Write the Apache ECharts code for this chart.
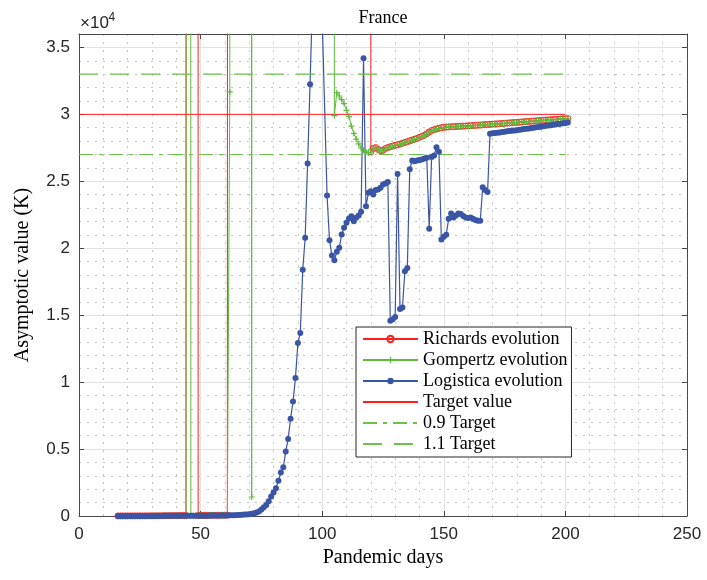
<!DOCTYPE html>
<html>
<head>
<meta charset="utf-8">
<script src="https://cdn.jsdelivr.net/npm/echarts@6/dist/echarts.min.js"></script>
<style>
html,body{margin:0;padding:0;background:#fff;}
#chart{width:707px;height:580px;}
</style>
</head>
<body>
<div id="chart"></div>
<script>
// ---- data ----
const H = 1000000; // estimate far above the visible range (draws as a vertical spike)
const days = [
  16,17,18,19,20,21,22,23,24,25,
  26,27,28,29,30,31,32,33,34,35,
  36,37,38,39,40,41,42,43,44,45,
  46,47,48,49,50,51,52,53,54,55,
  56,57,58,59,60,61,62,63,64,65,
  66,67,68,69,70,71,72,73,74,75,
  76,77,78,79,80,81,82,83,84,85,
  86,87,88,89,90,91,92,93,94,95,
  96,97,98,99,100,101,102,103,104,105,
  106,107,108,109,110,111,112,113,114,115,
  116,117,118,119,120,121,122,123,124,125,
  126,127,128,129,130,131,132,133,134,135,
  136,137,138,139,140,141,142,143,144,145,
  146,147,148,149,150,151,152,153,154,155,
  156,157,158,159,160,161,162,163,164,165,
  166,167,168,169,170,171,172,173,174,175,
  176,177,178,179,180,181,182,183,184,185,
  186,187,188,189,190,191,192,193,194,195,
  196,197,198,199,200,201
];
const richards = [
  3,3,4,4,5,5,6,6,7,8,
  8,9,10,11,12,13,14,16,17,19,
  20,22,24,26,28,30,32,35,38,H,
  H,H,H,40,42,44,46,48,50,52,
  54,56,58,60,62,64,H,H,H,H,
  H,H,H,H,H,H,H,H,H,H,
  H,H,H,H,H,H,H,H,H,H,
  H,H,H,H,H,H,H,H,H,H,
  H,H,H,H,H,H,H,H,H,H,
  H,H,H,H,H,H,H,H,H,H,
  H,H,H,H,27200,27450,27520,27380,27280,27320,
  27450,27520,27580,27630,27680,27730,27780,27840,27900,27960,
  28020,28080,28140,28200,28280,28360,28430,28550,28680,28790,
  28850,28910,28960,29000,29030,29050,29060,29070,29080,29090,
  29100,29110,29120,29130,29140,29150,29165,29180,29190,29200,
  29215,29230,29240,29250,29265,29280,29290,29300,29315,29330,
  29345,29360,29375,29390,29400,29415,29430,29445,29460,29475,
  29490,29500,29515,29530,29540,29555,29570,29580,29595,29610,
  29620,29635,29650,29660,29670,29680
];
const gompertz = [
  2,2,3,3,4,4,5,5,6,6,
  7,7,8,9,10,11,12,13,14,15,
  16,18,20,22,24,26,28,30,32,H,
  34,36,38,40,42,44,46,48,50,52,
  54,56,58,60,62,64,31670,H,H,H,
  H,H,H,H,H,1420,H,H,H,H,
  H,H,H,H,H,H,H,H,H,H,
  H,H,H,H,H,H,H,H,H,H,
  H,H,H,H,H,H,H,H,H,29900,
  31620,31370,31100,30800,30300,29830,29120,28580,28150,27800,
  27500,27300,27180,27120,27180,27420,27500,27360,27260,27300,
  27430,27500,27560,27610,27660,27710,27760,27820,27880,27940,
  28000,28060,28120,28180,28260,28340,28410,28530,28660,28770,
  28830,28890,28940,28980,29010,29030,29045,29055,29065,29075,
  29085,29095,29105,29115,29125,29135,29150,29165,29175,29185,
  29200,29215,29225,29235,29250,29265,29275,29285,29300,29315,
  29330,29345,29360,29375,29385,29400,29415,29430,29445,29460,
  29475,29485,29500,29515,29525,29540,29555,29565,29580,29595,
  29605,29620,29635,29645,29655,29665
];
const logistica = [
  1,1,1,2,2,2,3,3,3,4,
  4,5,5,6,6,7,8,8,9,10,
  11,12,13,14,15,16,17,18,19,20,
  21,22,23,24,25,26,27,28,30,32,
  34,36,38,40,42,45,50,55,60,70,
  80,90,105,120,140,170,210,260,330,480,
  650,820,1100,1450,1750,2070,2640,3240,3640,4810,
  5760,7260,8550,10300,12920,13670,18400,20780,26330,32240,
  38500,H,H,H,37100,null,23940,20600,19450,19100,
  19730,20030,21020,21520,21900,22220,22390,22020,22270,22440,
  22720,34190,23140,24140,24260,24010,24340,24390,24510,24760,
  24840,24940,14590,14700,14870,25540,15460,15580,18280,18530,
  25900,26560,26500,26560,26580,26630,26700,26750,21450,26820,
  26930,27550,27210,20650,20850,21000,22200,22600,22300,22450,
  22600,22550,22400,22300,22250,22300,22200,22100,22050,22050,
  24550,24350,24200,28550,28580,28600,28630,28650,28680,28700,
  28730,28750,28780,28800,28820,28850,28870,28900,28930,28950,
  28980,29000,29030,29060,29080,29110,29140,29160,29190,29220,
  29250,29270,29300,29330,29360,29390
];
const targetDays = [0, 200];
const targetValue = 30000;
const lowTarget = 27000;   // 0.9 Target
const highTarget = 33000;  // 1.1 Target
const yTickLabels = ['0','0.5','1','1.5','2','2.5','3','3.5'];
const legendNames = ['Richards evolution', 'Gompertz evolution', 'Logistica evolution', 'Target value', '0.9 Target', '1.1 Target'];

// ---- styles ----
const SERIF = '"Liberation Serif", "DejaVu Serif", serif';
const SANS = '"Liberation Sans", Arial, sans-serif';
const AXIS_C = '#4a4a4a';
const RED = '#ff1f1f';
const GREEN = '#5fbb3c';
const GREEN_D = '#6cc24a';
const BLUE = '#3a55a5';
const PLUS = 'path://M4,0 H6 V4 H10 V6 H6 V10 H4 V6 H0 V4 H4 Z';
const MINOR_C = ['rgba(0,0,0,0)', '#c4c4c4', '#c4c4c4', '#c4c4c4', '#c4c4c4'];

function pairs(vals) {
  return days.map((d, i) => [d, vals[i] === null ? '-' : vals[i]]);
}
function flat(v) { return targetDays.map(d => [d, v]); }

const chart = echarts.init(document.getElementById('chart'), null, {renderer: 'canvas'});

const hiddenSym = {opacity: 0, color: 'rgba(0,0,0,0)', borderColor: 'rgba(0,0,0,0)', borderWidth: 0};

const option = {
  animation: false,
  backgroundColor: '#fff',
  title: {
    text: 'France', left: 383, textAlign: 'center', top: 9, padding: 0,
    textStyle: {fontFamily: SERIF, fontSize: 18, fontWeight: 'normal', color: '#000'}
  },
  graphic: [
    {type: 'text', left: 80, top: 15, style: {text: '×10', font: '17px ' + SANS, fill: '#262626'}},
    {type: 'text', left: 108.5, top: 12, style: {text: '4', font: '12px ' + SANS, fill: '#262626'}}
  ],
  grid: {left: 79, right: 20, top: 34, bottom: 64, containLabel: false},
  legend: {
    orient: 'vertical', left: 356, top: 327,
    itemWidth: 55, itemHeight: 8, itemGap: 3,
    padding: [3, 4, 4, 6],
    borderColor: '#262626', borderWidth: 1, backgroundColor: '#fff',
    textStyle: {fontFamily: SERIF, fontSize: 18, color: '#000', lineHeight: 18},
    data: [
      {name: legendNames[0]},
      {name: legendNames[1]},
      {name: legendNames[2]},
      {name: legendNames[3], itemStyle: hiddenSym},
      {name: legendNames[4], itemStyle: hiddenSym},
      {name: legendNames[5], itemStyle: hiddenSym}
    ]
  },
  xAxis: [
    {
      type: 'value', min: 0, max: 250, interval: 50, position: 'bottom',
      name: 'Pandemic days', nameLocation: 'middle', nameGap: 28,
      nameTextStyle: {fontFamily: SERIF, fontSize: 20, color: '#000'},
      axisLine: {show: true, onZero: false, lineStyle: {color: AXIS_C, width: 1}},
      axisTick: {show: true, inside: true, length: 5, lineStyle: {color: AXIS_C}},
      axisLabel: {fontFamily: SANS, fontSize: 17, color: '#262626', margin: 10},
      splitLine: {show: true, lineStyle: {color: '#e2e2e2', width: 1}}
    },
    {
      type: 'value', min: 0, max: 250, interval: 50, position: 'top',
      axisLine: {show: true, onZero: false, lineStyle: {color: AXIS_C, width: 1}},
      axisTick: {show: true, inside: true, length: 5, lineStyle: {color: AXIS_C}},
      axisLabel: {show: false}, splitLine: {show: false}
    },
    {
      type: 'value', min: 0, max: 250, interval: 10, position: 'bottom',
      axisLine: {show: false}, axisTick: {show: false}, axisLabel: {show: false},
      splitLine: {show: true, lineStyle: {color: MINOR_C, type: [2, 6], width: 1}}
    }
  ],
  yAxis: [
    {
      type: 'value', min: 0, max: 36000, interval: 5000, position: 'left',
      name: 'Asymptotic value (K)', nameLocation: 'middle', nameGap: 46,
      nameTextStyle: {fontFamily: SERIF, fontSize: 20, color: '#000'},
      axisLine: {show: true, onZero: false, lineStyle: {color: AXIS_C, width: 1}},
      axisTick: {show: true, inside: true, length: 5, lineStyle: {color: AXIS_C}},
      axisLabel: {
        fontFamily: SANS, fontSize: 17, color: '#262626', margin: 9,
        formatter: function (v) {
          const k = Math.round(v / 5000);
          return (v % 5000 === 0 && k < yTickLabels.length) ? yTickLabels[k] : '';
        }
      },
      splitLine: {show: true, lineStyle: {color: '#e2e2e2', width: 1}}
    },
    {
      type: 'value', min: 0, max: 36000, interval: 5000, position: 'right',
      axisLine: {show: true, onZero: false, lineStyle: {color: AXIS_C, width: 1}},
      axisTick: {show: true, inside: true, length: 5, lineStyle: {color: AXIS_C}},
      axisLabel: {show: false}, splitLine: {show: false}
    },
    {
      type: 'value', min: 0, max: 36000, interval: 1000, position: 'left',
      axisLine: {show: false}, axisTick: {show: false}, axisLabel: {show: false},
      splitLine: {show: true, lineStyle: {color: MINOR_C, type: [2, 6], width: 1}}
    }
  ],
  series: [
    {
      name: legendNames[0], type: 'line', xAxisIndex: 0, yAxisIndex: 0,
      data: pairs(richards), clip: true,
      symbol: 'circle', symbolSize: 6,
      itemStyle: {color: 'rgba(255,255,255,0)', borderColor: RED, borderWidth: 1},
      lineStyle: {color: RED, width: 1}
    },
    {
      name: legendNames[1], type: 'line', xAxisIndex: 0, yAxisIndex: 0,
      data: pairs(gompertz), clip: true,
      symbol: PLUS, symbolSize: 6,
      itemStyle: {color: GREEN},
      lineStyle: {color: GREEN, width: 1}
    },
    {
      name: legendNames[2], type: 'line', xAxisIndex: 0, yAxisIndex: 0,
      data: pairs(logistica), clip: true, connectNulls: true,
      symbol: 'circle', symbolSize: 6,
      itemStyle: {color: BLUE},
      lineStyle: {color: BLUE, width: 1.2}
    },
    {
      name: legendNames[3], type: 'line', xAxisIndex: 0, yAxisIndex: 0,
      data: flat(targetValue), symbol: 'none',
      itemStyle: {color: RED}, lineStyle: {color: RED, width: 1}
    },
    {
      name: legendNames[4], type: 'line', xAxisIndex: 0, yAxisIndex: 0,
      data: flat(lowTarget), symbol: 'none',
      itemStyle: {color: GREEN_D}, lineStyle: {color: GREEN_D, width: 1.2, type: [14, 6, 4, 6]}
    },
    {
      name: legendNames[5], type: 'line', xAxisIndex: 0, yAxisIndex: 0,
      data: flat(highTarget), symbol: 'none',
      itemStyle: {color: GREEN_D}, lineStyle: {color: GREEN_D, width: 1.2, type: [19, 12]}
    }
  ]
};
chart.setOption(option);
</script>
</body>
</html>
